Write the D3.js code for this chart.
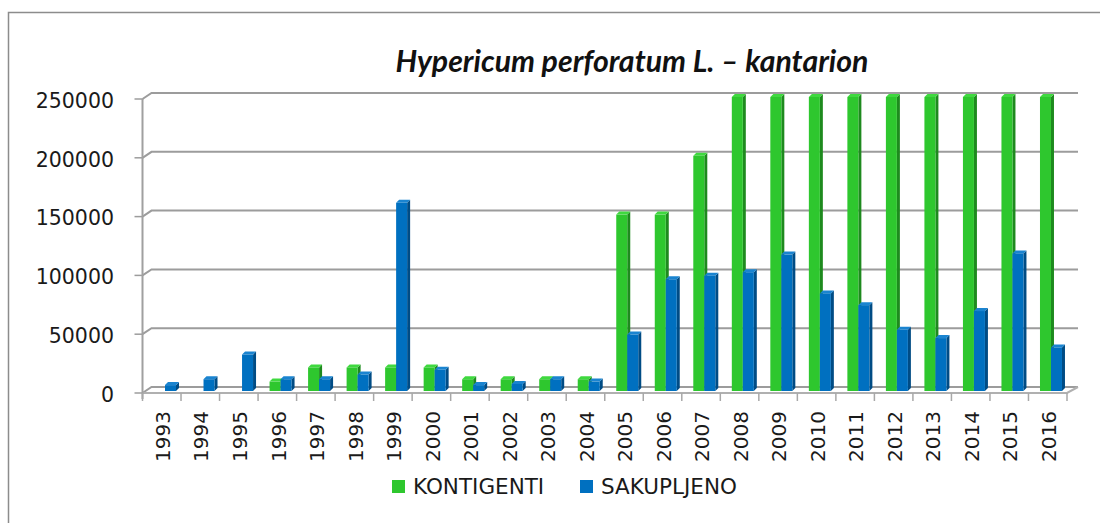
<!DOCTYPE html>
<html>
<head>
<meta charset="utf-8">
<script src="https://cdn.jsdelivr.net/npm/d3@7"></script>
<style>
  body { margin: 0; background: #fff; }
  svg { display: block; }
</style>
</head>
<body>
<div id="chart"></div>
<script>
// chart data
var years = ["1993","1994","1995","1996","1997","1998","1999","2000","2001","2002","2003","2004",
             "2005","2006","2007","2008","2009","2010","2011","2012","2013","2014","2015","2016"];
var kontigenti = [0, 0, 0, 8000, 20000, 20000, 20000, 20000, 10000, 10000, 10000, 10000,
                  150000, 150000, 200000, 250000, 250000, 250000, 250000, 250000, 250000, 250000, 250000, 250000];
var sakupljeno = [5000, 10000, 31000, 10000, 10000, 14000, 160000, 18000, 5000, 6000, 10000, 8000,
                  48000, 95000, 98000, 101000, 116000, 83000, 73000, 52000, 45000, 68000, 117000, 37000];
var yTicks = [0, 50000, 100000, 150000, 200000, 250000];
var seriesNames = ["KONTIGENTI", "SAKUPLJENO"];
var title = "Hypericum perforatum L. \u2013 kantarion";

var width = 1100;
var height = 523;

// depth offset of the back wall relative to the front edge
var backDx = 9;
var backDy = -6;
// bar 3D side
var barDx = 3;
var barDy = -3;

var colors = [
	{front: "#2ec72e", side: "#1e8a1e", top: "#3fd93f"},
	{front: "#0070c0", side: "#004c85", top: "#1a84d0"}
];

var svg = d3.select("#chart")
	.append("svg")
	.attr("width", width)
	.attr("height", height);

// outer border (right and bottom edges are outside the picture)
svg.append("path")
	.attr("d", "M8.5,523 L8.5,12.5 L1100,12.5")
	.attr("fill", "none")
	.attr("stroke", "#8c8c8c")
	.attr("stroke-width", 1.5);

var xScale = d3.scaleBand()
	.domain(years)
	.range([142.5, 1067])
	.padding(0);

var yScale = d3.scaleLinear()
	.domain([0, 250000])
	.range([393, 99]);

var x0 = xScale.range()[0];
var x1 = xScale.range()[1];

// gridlines on the back wall, with the diagonal on the left wall
var grid = svg.append("g").attr("class", "grid");
yTicks.forEach(function(t){
	var y = yScale(t);
	grid.append("path")
		.attr("d", "M" + x0 + "," + y + " L" + (x0 + backDx) + "," + (y + backDy) +
			" L" + (x1 + backDx + 2) + "," + (y + backDy))
		.attr("fill", "none")
		.attr("stroke", "#9c9c9c")
		.attr("stroke-width", 2);
	// tick on the front vertical axis
	grid.append("line")
		.attr("x1", x0 - 8).attr("x2", x0)
		.attr("y1", y).attr("y2", y)
		.attr("stroke", "#9c9c9c")
		.attr("stroke-width", 1.5);
});

// floor front edge and right edge
svg.append("path")
	.attr("d", "M" + x0 + "," + yScale(0) + " L" + x1 + "," + yScale(0) +
		" L" + (x1 + backDx + 2) + "," + (yScale(0) + backDy))
	.attr("fill", "none")
	.attr("stroke", "#b0b0b0")
	.attr("stroke-width", 2);

// front vertical axis
svg.append("line")
	.attr("x1", x0).attr("x2", x0)
	.attr("y1", yScale(250000)).attr("y2", yScale(0) + 6)
	.attr("stroke", "#a0a0a0")
	.attr("stroke-width", 2);

// category ticks
var xTicks = years.map(function(d){ return xScale(d); }).concat([x1]);
svg.selectAll(".xtick")
	.data(xTicks)
	.enter()
	.append("line")
	.attr("class", "xtick")
	.attr("x1", function(d){ return d; })
	.attr("x2", function(d){ return d; })
	.attr("y1", yScale(0))
	.attr("y2", yScale(0) + 8)
	.attr("stroke", "#a8a8a8")
	.attr("stroke-width", 1.5);

// y labels
svg.selectAll(".ylabel")
	.data(yTicks)
	.enter()
	.append("text")
	.attr("class", "ylabel")
	.attr("x", 114)
	.attr("y", function(d){ return yScale(d) + 1.5; })
	.attr("dy", "0.36em")
	.style("text-anchor", "end")
	.style("font-family", "DejaVu Sans")
	.style("font-size", "20.5px")
	.style("fill", "#1a1a1a")
	.text(function(d){ return d; });

// x labels
svg.selectAll(".xlabel")
	.data(years)
	.enter()
	.append("text")
	.attr("class", "xlabel")
	.attr("transform", function(d){
		return "translate(" + (xScale(d) + xScale.bandwidth() / 2 + 1) + ",411) rotate(-90)";
	})
	.attr("dy", "0.36em")
	.style("text-anchor", "end")
	.style("font-family", "DejaVu Sans")
	.style("font-size", "20px")
	.style("fill", "#1a1a1a")
	.text(function(d){ return d; });

// bars: front face, side face, top face
var barW = 11;
var barBase = yScale(0) - 2;
function barPath(x, v){
	var yTop = yScale(v) - 2;
	return {
		front: [x, yTop, barW, barBase - yTop],
		side: "M" + (x + barW) + "," + barBase + " L" + (x + barW) + "," + yTop +
			" L" + (x + barW + barDx) + "," + (yTop + barDy) +
			" L" + (x + barW + barDx) + "," + (barBase + barDy) + " Z",
		top: "M" + x + "," + yTop + " L" + (x + barDx) + "," + (yTop + barDy) +
			" L" + (x + barW + barDx) + "," + (yTop + barDy) +
			" L" + (x + barW) + "," + yTop + " Z"
	};
}

[kontigenti, sakupljeno].forEach(function(values, s){
	var g = svg.append("g").attr("class", "series" + s);
	values.forEach(function(v, i){
		if(v <= 0) return;
		var x = xScale(years[i]) + 11.5 + s * barW;
		var p = barPath(x, v);
		g.append("path").attr("d", p.side).attr("fill", colors[s].side);
		g.append("path").attr("d", p.top).attr("fill", colors[s].top);
		g.append("rect")
			.attr("x", p.front[0])
			.attr("y", p.front[1])
			.attr("width", p.front[2])
			.attr("height", p.front[3])
			.attr("fill", colors[s].front);
	});
});

// title
var titleText = svg.append("text")
	.attr("x", 632)
	.attr("y", 72)
	.style("text-anchor", "middle")
	.style("font-family", "Lato")
	.style("font-weight", "bold")
	.style("font-style", "italic")
	.style("font-size", "26px")
	.style("fill", "#111")
	.text(title);
var tw = titleText.node().getComputedTextLength();
titleText.style("font-size", (26 * 473 / tw) + "px");

// legend
var legendX = [392, 580];
var legend = svg.selectAll(".legend")
	.data(seriesNames)
	.enter()
	.append("g")
	.attr("class", "legend")
	.attr("transform", function(d, i){ return "translate(" + legendX[i] + ",480)"; });

legend.append("rect")
	.attr("width", 13)
	.attr("height", 13)
	.attr("fill", function(d, i){ return colors[i].front; });

legend.append("text")
	.attr("x", 21)
	.attr("y", 14)
	.style("font-family", "DejaVu Sans")
	.style("font-size", "21.5px")
	.style("fill", "#1a1a1a")
	.text(function(d){ return d; });
</script>
</body>
</html>
